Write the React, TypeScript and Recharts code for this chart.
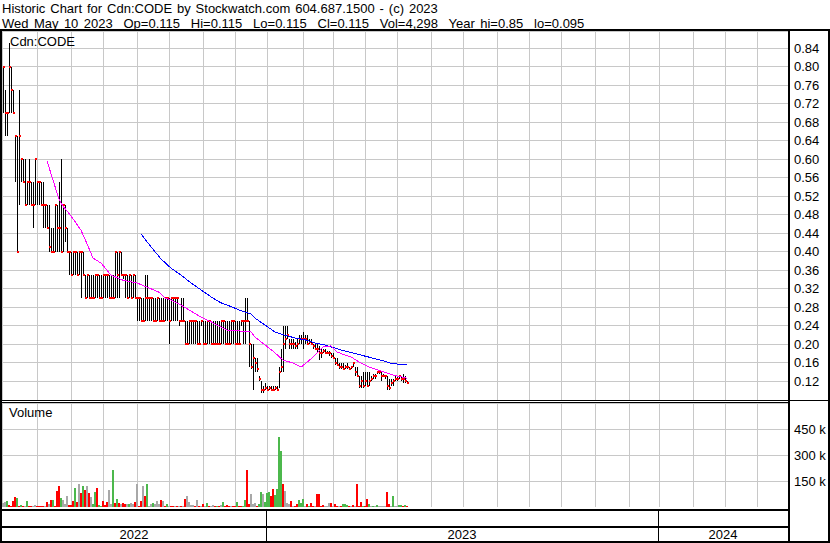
import React from 'react';
import { ComposedChart, BarChart, Bar, Line, XAxis, YAxis, CartesianGrid } from 'recharts';

const FONT = '"Liberation Sans", Arial, sans-serif';

// one slot = one ~2px trading period; axis runs May 2022 .. Apr 2024
const SLOT_COUNT = 393;

// daily-ish bars, cents
const HIGH = [
  80, 75, 70, 85, 80, 75, 65, 65, 75, 60,
  60, 60, 55, 60, 55, 55, 60, 55, 55, 55,
  55, 50, 50, 50, 45, 45, 50, 50, 55, 60,
  50, 50, 45, 40, 40, 40, 40, 40, 40, 40,
  40, 35, 35, 35, 35, 35, 35, 35, 35, 35,
  35, 35, 35, 35, 35, 35, 40, 40, 40, 40,
  35, 35, 35, 35, 35, 35, 35, 30, 30, 30,
  30, 35, 35, 30, 30, 30, 30, 30, 30, 30,
  30, 30, 30, 30, 30, 30, 30, 30, 25, 30,
  30, 25, 25, 25, 25, 25, 25, 25, 25, 25,
  25, 25, 25, 25, 25, 25, 25, 25, 25, 25,
  25, 25, 25, 25, 25, 25, 25, 25, 25, 25,
  25, 30, 30, 25, 20, 20, 17, 17, 13, 12,
  11, 11.5, 11, 11, 11, 11, 11, 11, 15, 19,
  24, 24, 24, 21, 21, 21, 20.5, 21, 22, 22,
  22.5, 22, 22, 21, 21, 20, 20, 20, 19.5, 19,
  19, 19, 18.5, 18.5, 18, 18, 17, 17, 16, 16,
  16, 15.5, 16, 15, 15, 16, 15, 15, 13, 13,
  14, 14, 14, 14, 13, 13.5, 13.5, 14, 14, 14,
  13.5, 13, 13, 12.5, 12.5, 12.5, 13, 13, 13, 13,
  13.5, 13, 12,
];
const LOW = [
  70, 65, 65, 70, 70, 70, 55, 40, 50, 55,
  55, 50, 50, 50, 50, 45, 50, 50, 50, 50,
  45, 45, 45, 40, 40, 40, 40, 40, 40, 40,
  40, 42, 40, 35, 35, 35, 35, 35, 35, 30,
  35, 30, 30, 30, 30, 30, 30, 30, 30, 30,
  30, 30, 30, 30, 30, 30, 30, 30, 30, 35,
  34, 30, 30, 30, 30, 30, 30, 25, 25, 25,
  25, 25, 25, 25, 25, 25, 25, 25, 25, 25,
  25, 25, 25, 20, 25, 25, 25, 25, 24, 25,
  25, 20, 20, 20, 20, 20, 20, 20, 20, 24,
  20, 20, 20, 20, 20, 20, 20, 20, 20, 20,
  20, 20, 20, 20, 20, 20, 20, 20, 20, 24,
  20, 20, 25, 15, 14.5, 10, 14, 14, 12, 9.5,
  9.5, 10, 10, 10, 10, 10, 10, 10, 10.5, 14,
  14, 19, 21, 19, 19, 19, 19, 19, 20, 20,
  19, 20, 20, 20, 20, 19, 19, 18, 16.5, 17,
  18, 18, 18, 17.5, 17, 17, 15.5, 15.5, 14.5, 14.5,
  14.5, 14.5, 14.5, 14.5, 14.5, 15, 13, 13, 10.5, 10.5,
  10.5, 11, 11, 11, 12, 12.5, 12.5, 13.5, 13.5, 12,
  13, 12.5, 10, 10, 11, 11, 12, 12, 12.5, 12,
  11.5, 11.5, 11.5,
];
const CLOSE = [
  80, 70, 70, 80, 75, 70, 65, 40, 65, 60,
  55, 50, 55, 55, 50, 50, 60, 55, 55, 50,
  50, 50, 45, 41, 40, 40, 50, 45, 45, 40,
  50, 45, 40, 40, 35, 40, 40, 35, 40, 40,
  35, 30, 35, 30, 30, 30, 35, 35, 30, 30,
  35, 35, 35, 30, 30, 30, 40, 35, 40, 35,
  35, 35, 30, 35, 30, 35, 30, 30, 30, 25,
  25, 30, 30, 30, 30, 25, 25, 30, 25, 25,
  25, 30, 30, 25, 30, 30, 30, 30, 25, 25,
  25, 20, 20, 25, 25, 25, 25, 20, 20, 25,
  20, 20, 25, 25, 20, 20, 20, 20, 20, 25,
  25, 20, 20, 20, 25, 25, 20, 20, 20, 25,
  25, 25, 25, 20, 15, 17, 16, 14.5, 12.5, 10,
  10, 10.5, 10, 10.5, 10, 10, 10.5, 10, 14, 15,
  20, 21, 22, 20, 20, 20, 19.5, 20, 21, 21,
  21, 21, 20, 20.5, 20, 19.5, 19, 19, 18, 18,
  18.5, 18, 18, 18, 17.5, 17, 16, 15.5, 15, 15,
  14.5, 15, 15, 14.5, 15, 16, 14, 13, 11, 12,
  11, 12, 11, 12, 12.5, 13, 13, 14, 14, 13,
  13, 13, 11, 10.5, 11.5, 12, 12.5, 12.5, 13, 12.5,
  12.5, 12, 11.5,
];

// thousands of shares
const VOLUME_K = [
  22, 28, 37, 10, 8, 37, 55, 52, 6, 10,
  6, 4, 37, 5, 8, 5, 12, 4, 3, 3,
  4, 6, 31, 15, 41, 41, 8, 92, 120, 52,
  41, 20, 65, 9, 9, 37, 111, 28, 135, 80,
  120, 96, 120, 78, 55, 20, 87, 107, 9, 6,
  33, 9, 28, 96, 15, 213, 25, 46, 22, 20,
  22, 18, 20, 18, 22, 15, 28, 135, 8, 37,
  120, 65, 135, 8, 15, 22, 18, 37, 18, 41,
  37, 6, 18, 5, 6, 4, 5, 4, 5, 6,
  8, 46, 65, 28, 10, 13, 5, 41, 6, 5,
  18, 8, 24, 6, 8, 13, 5, 6, 4, 13,
  28, 5, 9, 6, 4, 8, 5, 28, 5, 6,
  8, 41, 213, 18, 74, 20, 24, 8, 15, 89,
  74, 28, 83, 87, 61, 102, 68, 105, 403, 324,
  135, 92, 22, 20, 33, 8, 6, 18, 41, 22,
  46, 8, 18, 6, 22, 5, 8, 74, 74, 6,
  13, 5, 8, 22, 22, 8, 18, 5, 6, 4,
  18, 18, 12, 5, 6, 9, 5, 130, 8, 28,
  6, 8, 46, 15, 5, 6, 4, 13, 5, 4,
  6, 8, 87, 18, 5, 65, 4, 6, 9, 9,
  6, 9, 5,
];
// u = up day, d = down day, n = unchanged
const VOL_DIR =
  'nnuddddudu' + 'dnuddnnddd' + 'dndndudddu' + 'nnndddudnd' + 'udndnuuduu' +
  'dddnnududn' + 'ddnunndndd' + 'ndunnunnnd' + 'ndunddndnd' + 'ndnnnndndn' +
  'dnudnndudn' + 'udddnddudd' + 'uuddnnnduu' + 'nuuudduuuu' + 'dnnndndduu' +
  'unduddnddd' + 'dnnndnddnd' + 'uuudndnddd' + 'uddunununn' + 'nnddnunnuu' + 'dud';

// moving averages read at sample slots
const MA_FAST_SLOT = [22, 28, 30, 34, 39, 41, 45, 49, 54, 60, 67, 72, 78, 81, 84, 89, 94, 99, 104, 109, 112, 119, 124, 126, 131, 136, 140, 145, 149, 154, 160, 164, 167, 171, 174, 178, 183, 190, 195, 202];
const MA_FAST = [0.596, 0.513, 0.498, 0.477, 0.446, 0.427, 0.386, 0.375, 0.349, 0.338, 0.332, 0.323, 0.312, 0.299, 0.295, 0.284, 0.271, 0.258, 0.248, 0.237, 0.230, 0.228, 0.226, 0.215, 0.198, 0.181, 0.165, 0.159, 0.150, 0.168, 0.194, 0.196, 0.183, 0.176, 0.172, 0.161, 0.150, 0.140, 0.133, 0.126];
const MA_SLOW_SLOT = [69, 74, 79, 84, 89, 94, 99, 104, 109, 114, 119, 124, 126, 131, 136, 141, 146, 151, 156, 161, 169, 179, 189, 195, 202];
const MA_SLOW = [0.438, 0.410, 0.384, 0.364, 0.349, 0.332, 0.317, 0.302, 0.289, 0.281, 0.272, 0.265, 0.256, 0.241, 0.226, 0.219, 0.213, 0.209, 0.202, 0.198, 0.187, 0.176, 0.165, 0.157, 0.156];

const PRICE_TICKS = [0.12, 0.16, 0.2, 0.24, 0.28, 0.32, 0.36, 0.4, 0.44, 0.48, 0.52, 0.56, 0.6, 0.64, 0.68, 0.72, 0.76, 0.8, 0.84];
const VOLUME_TICKS = [150000, 300000, 450000];
const MONTH_SLOTS = [17, 34, 50, 67, 83, 100, 116, 132, 150, 165, 181, 197, 214, 230, 247, 263, 279, 296, 313, 328, 345, 361, 377];
const YEARS = ['2022', '2023', '2024'];
const YEAR_START_SLOTS = [0, 132, 328];

const rows: any[] = Array.from({ length: SLOT_COUNT }, (_, i) => {
  const has = i < HIGH.length;
  return {
    i,
    hl: has ? [LOW[i] / 100, HIGH[i] / 100] : null,
    hi: has ? HIGH[i] / 100 : null,
    lo: has ? LOW[i] / 100 : null,
    close: has ? CLOSE[i] / 100 : null,
    vol: has ? VOLUME_K[i] * 1000 : null,
    dir: has ? VOL_DIR[i] : null,
    fast: null,
    slow: null,
  };
});
MA_FAST_SLOT.forEach((s, k) => { rows[s].fast = MA_FAST[k]; });
MA_SLOW_SLOT.forEach((s, k) => { rows[s].slow = MA_SLOW[k]; });

const DIR_COLOR: Record<string, string> = { u: '#4cb84c', d: '#ff0000', n: '#a8a8a8' };

const PriceBar = (props: any) => {
  const { x, y, width, height, payload } = props;
  if (!payload || payload.hl == null || x == null) return null;
  const top = Math.min(y, y + height);
  const h = Math.abs(height);
  const cx = Math.round(x + width / 2);
  const span = payload.hi - payload.lo;
  const cy = span > 0 ? top + ((payload.hi - payload.close) / span) * h : top;
  return (
    <g>
      <rect x={cx} y={top} width={1} height={Math.max(h, 1)} fill="#000" />
      <rect x={cx} y={Math.round(cy) - 1} width={2} height={2} fill="#ff0000" />
    </g>
  );
};

const VolumeBar = (props: any) => {
  const { x, y, width, height, payload } = props;
  if (!payload || payload.vol == null || x == null) return null;
  return <rect x={Math.round(x)} y={y} width={2} height={height + 2} fill={DIR_COLOR[payload.dir] || '#a8a8a8'} />;
};

const tickStyle = { fontSize: 13, fill: '#000', fontFamily: FONT };
const GRID = '#c8c8c8';

// slot centre in page pixels (plot starts at x=2, 2px per slot)
const slotX = (s: number) => 2 + s * 2;

export default function App() {
  return (
    <div style={{ position: 'absolute', left: 0, top: 0, width: 830, height: 543, background: '#fff', overflow: 'hidden', fontFamily: FONT, color: '#000' }}>
      <style>{'.crisp line, .crisp rect, .crisp path { shape-rendering: crispEdges; }'}</style>

      {/* header */}
      <div style={{ position: 'absolute', left: 2, top: 1, fontSize: 13, lineHeight: '15px', whiteSpace: 'pre' }}>
        <div style={{ wordSpacing: '1.3px' }}>Historic Chart for Cdn:CODE by Stockwatch.com 604.687.1500 - (c) 2023</div>
        <div style={{ wordSpacing: '1.8px' }}>Wed May 10 2023  Op=0.115  Hi=0.115  Lo=0.115  Cl=0.115  Vol=4,298  Year hi=0.85  lo=0.095</div>
      </div>
      <div style={{ position: 'absolute', left: 0, top: 29, width: 830, height: 2, background: '#000' }} />

      {/* price panel */}
      <div style={{ position: 'absolute', left: 0, top: 31 }}>
        <ComposedChart className="crisp" width={830} height={369} data={rows} margin={{ top: 0, right: 0, bottom: 0, left: 2 }} barCategoryGap={0}>
          <CartesianGrid stroke={GRID} horizontal vertical />
          <XAxis dataKey="i" type="category" hide ticks={MONTH_SLOTS} interval={0} />
          <YAxis orientation="right" type="number" domain={[0.07892, 0.87676]} allowDataOverflow ticks={PRICE_TICKS}
            tickFormatter={(v: number) => v.toFixed(2)} axisLine={false} tickLine={false} tickSize={4} tickMargin={2}
            width={42} tick={tickStyle} interval={0} />
          <Bar dataKey="hl" shape={PriceBar} isAnimationActive={false} />
          <Line dataKey="slow" stroke="#0000ff" strokeWidth={1} dot={false} connectNulls isAnimationActive={false} />
          <Line dataKey="fast" stroke="#ff00ff" strokeWidth={1} dot={false} connectNulls isAnimationActive={false} />
        </ComposedChart>
      </div>
      <div style={{ position: 'absolute', left: 10, top: 34, fontSize: 13 }}>Cdn:CODE</div>

      {/* separator between panels */}
      <div style={{ position: 'absolute', left: 0, top: 400, width: 830, height: 1, background: '#000' }} />
      <div style={{ position: 'absolute', left: 0, top: 402, width: 790, height: 1, background: '#000' }} />

      {/* volume panel */}
      <div style={{ position: 'absolute', left: 0, top: 403 }}>
        <BarChart className="crisp" width={830} height={104} data={rows} margin={{ top: 0, right: 0, bottom: 0, left: 2 }} barCategoryGap={0}>
          <CartesianGrid stroke={GRID} horizontal vertical />
          <XAxis dataKey="i" type="category" hide ticks={MONTH_SLOTS} interval={0} />
          <YAxis orientation="right" type="number" domain={[0, 600000]} allowDataOverflow ticks={VOLUME_TICKS}
            tickFormatter={(v: number) => `${v / 1000} k`} axisLine={false} tickLine={false} tickSize={4} tickMargin={2}
            width={42} tick={tickStyle} interval={0} />
          <Bar dataKey="vol" shape={VolumeBar} isAnimationActive={false} />
        </BarChart>
      </div>
      <div style={{ position: 'absolute', left: 9, top: 405, fontSize: 13 }}>Volume</div>

      {/* year band */}
      <div style={{ position: 'absolute', left: 0, top: 509, width: 790, height: 2, background: '#000' }} />
      <div style={{ position: 'absolute', left: 0, top: 526, width: 790, height: 2, background: '#000' }} />
      <div style={{ position: 'absolute', left: 0, top: 541, width: 830, height: 2, background: '#000' }} />
      {YEARS.map((yr, k) => {
        const x0 = slotX(YEAR_START_SLOTS[k]);
        const x1 = k + 1 < YEARS.length ? slotX(YEAR_START_SLOTS[k + 1]) : 788;
        return (
          <React.Fragment key={yr}>
            {k > 0 && <div style={{ position: 'absolute', left: x0, top: 511, width: 1, height: 30, background: '#000' }} />}
            <div style={{ position: 'absolute', left: x0, width: x1 - x0, top: 527, fontSize: 13, lineHeight: '15px', textAlign: 'center' }}>{yr}</div>
          </React.Fragment>
        );
      })}

      {/* frame */}
      <div style={{ position: 'absolute', left: 0, top: 29, width: 2, height: 514, background: '#000' }} />
      <div style={{ position: 'absolute', left: 788, top: 29, width: 2, height: 514, background: '#000' }} />
      <div style={{ position: 'absolute', left: 828, top: 29, width: 2, height: 514, background: '#000' }} />
    </div>
  );
}
